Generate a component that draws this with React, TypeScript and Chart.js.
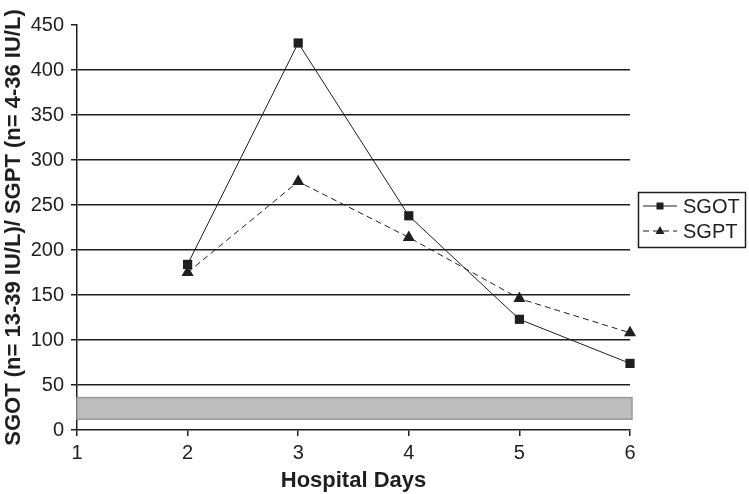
import React, { useEffect, useRef } from "react";
import { Chart, registerables } from "chart.js";

Chart.register(...registerables);

// ---- data ----
const days = [2, 3, 4, 5, 6];
const sgotValues = [184, 430, 238, 123, 74];
const sgptValues = [175, 276, 214, 146, 108];
const normalBand = [12, 36]; // shaded normal range (IU/L)
const xRange = [1, 6];
const yRange = [0, 450];
const yStep = 50;
const seriesNames = ["SGOT", "SGPT"];
const xTitle = "Hospital Days";
const yTitle = "SGOT (n= 13-39 IU/L)/ SGPT (n= 4-36 IU/L)";

const FONT = "'Liberation Sans', Arial, sans-serif";
const INK = "#1f1f1f";

const bandPlugin = {
  id: "bandPlugin",
  beforeDatasetsDraw(chart: any) {
    const { ctx, scales } = chart;
    const x0 = scales.x.getPixelForValue(xRange[0]);
    const x1 = scales.x.getPixelForValue(xRange[1]) + 2;
    const yTop = scales.y.getPixelForValue(normalBand[1]);
    const yBot = scales.y.getPixelForValue(normalBand[0]);
    ctx.save();
    ctx.fillStyle = "#bdbdbd";
    ctx.fillRect(x0, yTop, x1 - x0, yBot - yTop);
    ctx.strokeStyle = "#9a9a9a";
    ctx.lineWidth = 1.5;
    ctx.strokeRect(x0, yTop, x1 - x0, yBot - yTop);
    ctx.restore();
  },
};

const legendPlugin = {
  id: "boxLegend",
  afterDraw(chart: any) {
    const { ctx, chartArea } = chart;
    const left = chartArea.right + 8;
    const top = 192;
    const w = 107;
    const h = 55;
    ctx.save();
    ctx.strokeStyle = INK;
    ctx.lineWidth = 1.5;
    ctx.strokeRect(left + 0.5, top + 0.5, w, h);
    chart.data.datasets.forEach((ds: any, i: number) => {
      const y = top + 14 + i * 25;
      const lx0 = left + 5;
      const lx1 = left + 39;
      const mx = (lx0 + lx1) / 2;
      ctx.strokeStyle = ds.borderColor;
      ctx.lineWidth = 1;
      ctx.setLineDash(ds.borderDash || []);
      ctx.beginPath();
      ctx.moveTo(lx0, y);
      ctx.lineTo(lx1, y);
      ctx.stroke();
      ctx.setLineDash([]);
      ctx.fillStyle = INK;
      if (ds.pointStyle === "rect") {
        ctx.fillRect(mx - 3.5, y - 3.5, 7, 7);
      } else {
        ctx.beginPath();
        ctx.moveTo(mx, y - 5);
        ctx.lineTo(mx + 4.5, y + 3);
        ctx.lineTo(mx - 4.5, y + 3);
        ctx.closePath();
        ctx.fill();
      }
      ctx.fillStyle = INK;
      ctx.font = `20px ${FONT}`;
      ctx.textBaseline = "middle";
      ctx.textAlign = "left";
      ctx.fillText(ds.label, left + 45, y + 1);
    });
    ctx.restore();
  },
};

export default function App() {
  const ref = useRef<HTMLCanvasElement>(null);

  useEffect(() => {
    if (!ref.current) return;
    const chart = new Chart(ref.current, {
      type: "line",
      data: {
        datasets: [
          {
            label: seriesNames[0],
            data: days.map((d, i) => ({ x: d, y: sgotValues[i] })),
            borderColor: INK,
            backgroundColor: INK,
            borderWidth: 1,
            pointStyle: "rect",
            pointRadius: 6.5,
            pointBorderWidth: 0,
            tension: 0,
            clip: false,
          },
          {
            label: seriesNames[1],
            data: days.map((d, i) => ({ x: d, y: sgptValues[i] })),
            borderColor: INK,
            backgroundColor: INK,
            borderWidth: 1,
            borderDash: [6, 4],
            pointStyle: "triangle",
            pointRadius: 7,
            pointBorderWidth: 0,
            tension: 0,
            clip: false,
          },
        ],
      },
      options: {
        animation: false,
        responsive: false,
        devicePixelRatio: 1,
        layout: { padding: { top: 25, right: 119, left: 0, bottom: 0 } },
        plugins: { legend: { display: false }, tooltip: { enabled: false } },
        scales: {
          x: {
            type: "linear",
            min: xRange[0],
            max: xRange[1],
            afterFit: (s: any) => {
              s.height = 64;
            },
            ticks: {
              stepSize: 1,
              padding: 5,
              color: INK,
              font: { family: FONT, size: 20 },
            },
            grid: {
              drawOnChartArea: false,
              drawTicks: true,
              tickLength: 6,
              tickColor: INK,
              lineWidth: 1.5,
            },
            border: { display: true, color: INK, width: 1.5 },
            title: {
              display: true,
              text: xTitle,
              color: INK,
              font: { family: FONT, size: 22, weight: "bold" },
              padding: { top: 0, bottom: 0 },
            },
          },
          y: {
            type: "linear",
            min: yRange[0],
            max: yRange[1],
            afterFit: (s: any) => {
              s.width = 77;
            },
            ticks: {
              stepSize: yStep,
              padding: 7,
              color: INK,
              font: { family: FONT, size: 20 },
            },
            grid: {
              color: (c: any) =>
                c.tick && (c.tick.value === yRange[0] || c.tick.value === yRange[1])
                  ? "rgba(0,0,0,0)"
                  : INK,
              tickColor: INK,
              tickLength: 6,
              lineWidth: 1.5,
            },
            border: { display: true, color: INK, width: 1.5 },
            title: {
              display: true,
              text: yTitle,
              color: INK,
              font: { family: FONT, size: 22, weight: "bold" },
              padding: { top: 1, bottom: 0 },
            },
          },
        },
      },
      plugins: [bandPlugin, legendPlugin],
    } as any);
    return () => chart.destroy();
  }, []);

  return (
    <div style={{ position: "absolute", left: 0, top: 0, width: 749, height: 494, background: "#fff" }}>
      <canvas ref={ref} width={749} height={494} style={{ width: 749, height: 494 }} />
    </div>
  );
}
